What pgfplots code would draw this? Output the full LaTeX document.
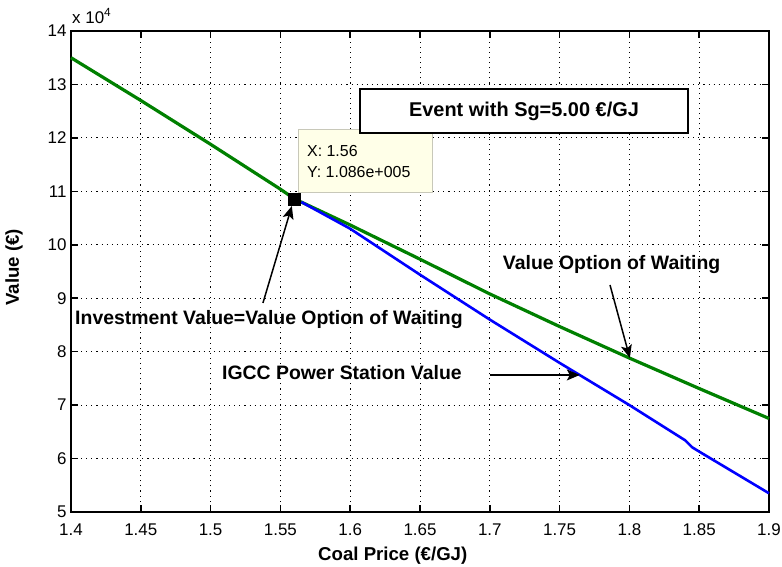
\documentclass[border=0pt]{standalone}
\usepackage{fontspec}
\setmainfont{Liberation Sans}
\usepackage{pgfplots}
\pgfplotsset{compat=1.18}
\usetikzlibrary{arrows.meta}
\definecolor{mgreen}{rgb}{0,0.5,0}
\definecolor{tipfill}{RGB}{255,255,232}
\definecolor{tipedge}{RGB}{200,200,185}
\begin{document}
\begin{tikzpicture}
\begin{axis}[
  scale only axis, width=698bp, height=481bp,
  xmin=1.4, xmax=1.9, ymin=5, ymax=14,
  xtick={1.4,1.45,1.5,1.55,1.6,1.65,1.7,1.75,1.8,1.85,1.9},
  xticklabels={1.4,1.45,1.5,1.55,1.6,1.65,1.7,1.75,1.8,1.85,1.9},
  ytick={5,6,7,8,9,10,11,12,13,14},
  /pgf/number format/assume math mode=true,
  grid=major,
  grid style={black, line width=0.9bp, dash pattern=on 1.1bp off 4bp},
  tick align=inside, major tick length=7bp,
  tick style={black, line width=1.6bp},
  axis line style={black, line width=1.6bp},
  tick label style={font=\fontsize{17}{18}\selectfont},
  xticklabel style={yshift=-8bp},
  yticklabel style={xshift=-1bp},
  xlabel={Coal Price (€/GJ)},
  ylabel={Value (€)},
  xlabel style={font=\fontsize{18.7}{22}\selectfont\bfseries, at={([yshift=-44bp]axis description cs:0.461,0)}, anchor=center},
  ylabel style={font=\fontsize{18.7}{22}\selectfont\bfseries, at={([xshift=-57bp]axis description cs:0,0.509)}, anchor=center, rotate=0},
  clip=false,
]
\addplot[mgreen, line width=3.2bp] coordinates {
 (1.40,13.50) (1.45,12.70) (1.50,11.88) (1.55,11.04) (1.56,10.86)
 (1.60,10.37) (1.65,9.73) (1.70,9.08) (1.75,8.47) (1.80,7.88)
 (1.85,7.31) (1.90,6.75)};
\addplot[blue, line width=2.6bp] coordinates {
 (1.565,10.80) (1.60,10.30) (1.65,9.44) (1.70,8.60) (1.75,7.79)
 (1.80,7.00) (1.84,6.34) (1.845,6.21) (1.85,6.13) (1.90,5.35)};
\addplot[only marks, mark=square*, mark size=6bp, black] coordinates {(1.56,10.86)};
% data tip
\node[draw=tipedge, fill=tipfill, line width=1.2bp, anchor=north west, minimum width=134bp, minimum height=63bp, inner sep=0pt] at (axis cs:1.5626,12.166) {};
\node[anchor=west, inner sep=0pt, font=\fontsize{16}{18}\selectfont] at (axis cs:1.569,11.755) {X: 1.56};
\node[anchor=west, inner sep=0pt, font=\fontsize{16}{18}\selectfont] at (axis cs:1.569,11.362) {Y: 1.086e+005};
% event box
\node[draw=black, fill=white, line width=1.6bp, minimum width=328bp, minimum height=44bp, inner sep=0pt, font=\fontsize{20}{24}\selectfont\bfseries] at (axis cs:1.7245,12.503) {Event with Sg=5.00 €/GJ};
% annotations
\node[anchor=west, inner sep=0pt, font=\fontsize{19.5}{22}\selectfont\bfseries] at (axis cs:1.4029,8.593) {Investment Value=Value Option of Waiting};
\draw[line width=1.5bp, -{Stealth[length=13bp, width=11bp, inset=3bp]}] (axis cs:1.5375,8.911) -- (axis cs:1.5582,10.726);
\node[anchor=west, inner sep=0pt, font=\fontsize{19.5}{22}\selectfont\bfseries] at (axis cs:1.7093,9.622) {Value Option of Waiting};
\draw[line width=1.5bp, -{Stealth[length=13bp, width=11bp, inset=3bp]}] (axis cs:1.7861,9.248) -- (axis cs:1.8003,7.882);
\node[anchor=west, inner sep=0pt, font=\fontsize{19.5}{22}\selectfont\bfseries] at (axis cs:1.5081,7.601) {IGCC Power Station Value};
\draw[line width=1.5bp, -{Stealth[length=13bp, width=11bp, inset=3bp]}] (axis cs:1.7001,7.564) -- (axis cs:1.7645,7.564);
% exponent
\node[anchor=west, inner sep=0pt, font=\fontsize{17}{18}\selectfont] at ([xshift=1bp, yshift=15bp]rel axis cs:0,1) {x 10\textsuperscript{4}};
\coordinate (BL) at (rel axis cs:0,0);
\coordinate (TR) at (rel axis cs:1,1);
\end{axis}
\pgfresetboundingbox
\path[use as bounding box] ([shift={(-71bp,-55bp)}]BL) rectangle ([shift={(13bp,31bp)}]TR);
\end{tikzpicture}
\end{document}
